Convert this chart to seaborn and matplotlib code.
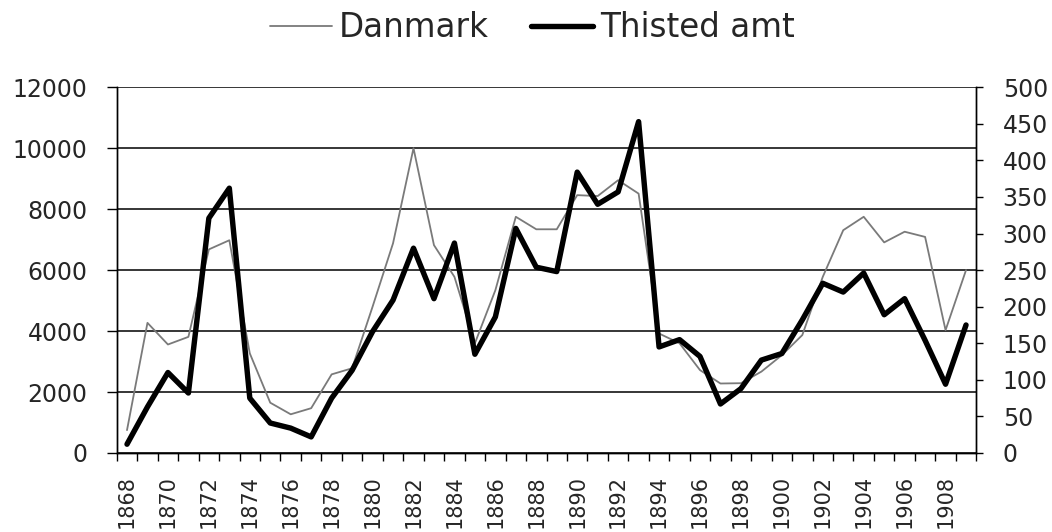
import numpy as np
import pandas as pd
import matplotlib
matplotlib.use('Agg')
import matplotlib.pyplot as plt
import seaborn as sns
from matplotlib.ticker import FixedLocator, NullFormatter

years = list(range(1868, 1910))

# Danmark (venstre akse)
danmark = [750, 4270, 3560, 3810, 6680, 6980, 3270, 1650, 1270, 1470,
           2580, 2780, 4800, 6880, 10000, 6820, 5780, 3600, 5340, 7750,
           7340, 7340, 8460, 8430, 8950, 8510, 3920, 3600, 2720, 2280,
           2290, 2670, 3210, 3870, 5780, 7310, 7750, 6910, 7260, 7090,
           4030, 6000]

# Thisted amt (hoejre akse)
thisted = [12, 63, 110, 82, 321, 362, 75, 41, 34, 22,
           75, 113, 166, 209, 280, 211, 287, 135, 186, 307,
           254, 248, 384, 340, 357, 453, 145, 155, 132, 67,
           88, 127, 136, 182, 232, 220, 246, 189, 211, 154,
           94, 175]

df = pd.DataFrame({'year': years, 'Danmark': danmark, 'Thisted amt': thisted})

sns.set_style('white')
plt.rcParams['font.family'] = ['DejaVu Sans']

fig = plt.figure(figsize=(10.52, 5.32), dpi=100)
ax = fig.add_axes([0.111, 0.1485, 0.817, 0.6875])
ax2 = ax.twinx()

sns.lineplot(data=df, x='year', y='Danmark', ax=ax, color='#7a7a7a',
             linewidth=1.3, label='Danmark', legend=False)
sns.lineplot(data=df, x='year', y='Thisted amt', ax=ax2, color='black',
             linewidth=3.9, label='Thisted amt', legend=False)

ax.set_xlim(1867.5, 1909.5)
ax.set_ylim(0, 12000)
ax2.set_ylim(0, 500)
ax.set_yticks(np.arange(0, 12001, 2000))
ax2.set_yticks(np.arange(0, 501, 50))

# kategori-akse: maerker mellem aarene, etiketter hvert andet aar
ax.set_xticks(years[::2])
ax.set_xticklabels([str(y) for y in years[::2]], rotation=90)
ax.xaxis.set_minor_locator(FixedLocator(np.arange(1867.5, 1910, 1)))
ax.xaxis.set_minor_formatter(NullFormatter())
ax.tick_params(axis='x', which='major', length=0, pad=16, labelsize=15)
ax.tick_params(axis='x', which='minor', length=6, width=1, color='black',
               direction='out', bottom=True)
ax.tick_params(axis='y', length=7, width=1, color='black', direction='out',
               left=True, labelsize=17, pad=14)
ax2.tick_params(axis='y', length=5, width=1, color='black', direction='out',
                right=True, labelsize=17, pad=14)

ax.grid(axis='y', color='black', linewidth=1.1)
ax.set_axisbelow(True)
ax.set_xlabel('')
ax.set_ylabel('')
ax2.set_ylabel('')

for a in (ax, ax2):
    a.spines['top'].set_visible(False)
    for s in ('left', 'right', 'bottom'):
        a.spines[s].set_color('black')
        a.spines[s].set_linewidth(1.0)

h1, l1 = ax.get_legend_handles_labels()
h2, l2 = ax2.get_legend_handles_labels()
fig.legend(h1 + h2, l1 + l2, loc='center', bbox_to_anchor=(0.506, 0.948),
           ncol=2, frameon=False, handlelength=1.9, handletextpad=0.2,
           columnspacing=1.3, borderpad=0, prop={'size': 23.5})

fig.savefig('out.png', dpi=100)
